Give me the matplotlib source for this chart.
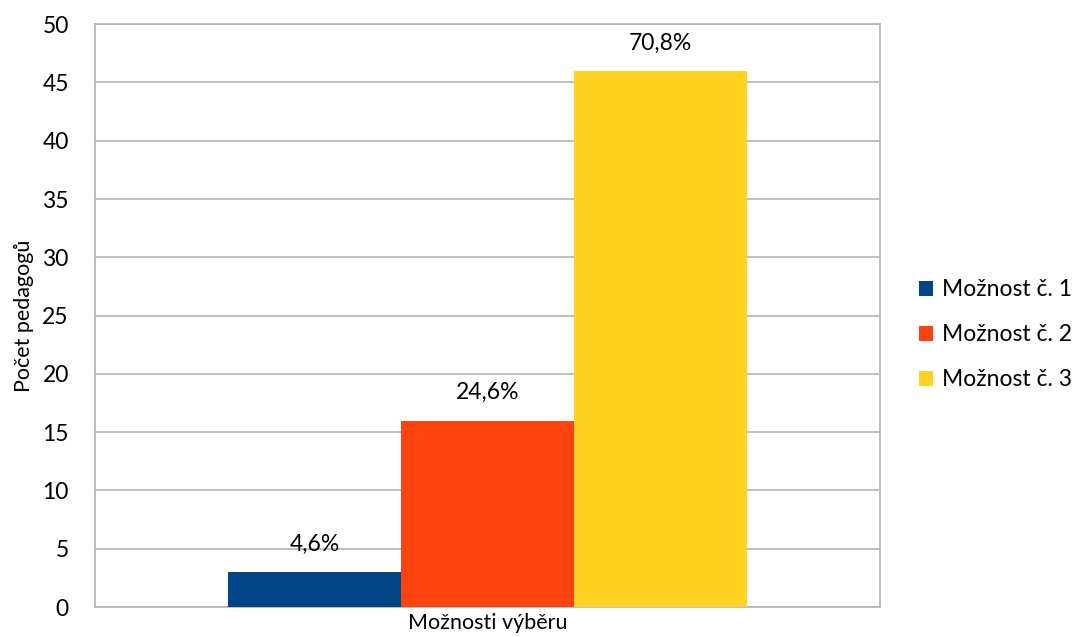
import matplotlib.pyplot as plt

plt.rcParams['font.family'] = ['Lato', 'DejaVu Sans']

labels = ['Možnost č. 1', 'Možnost č. 2', 'Možnost č. 3']
counts = [3, 16, 46]
percents = ['4,6%', '24,6%', '70,8%']
colors = ['#004586', '#FF420E', '#FFD320']
yticks = [0, 5, 10, 15, 20, 25, 30, 35, 40, 45, 50]

fig = plt.figure(figsize=(10.82, 6.37), dpi=100)
ax = fig.add_axes([0.088, 0.047, 0.725, 0.915])

pos = [-1, 0, 1]
for p, c, col, lab, pct in zip(pos, counts, colors, labels, percents):
    ax.bar(p, c, width=1.0, color=col, label=lab, zorder=3)
    ax.text(p, c + 1.5, pct, ha='center', va='bottom', fontsize=16.5, color='#000000')

ax.set_xlim(-2.27, 2.27)
ax.set_ylim(0, 50)
ax.set_yticks(yticks)
ax.set_xticks([])
ax.tick_params(axis='y', length=0, labelsize=16.5, pad=19)
ax.grid(axis='y', color='#B3B3B3', linewidth=1.2, zorder=0)
for s in ax.spines.values():
    s.set_color('#B3B3B3')
    s.set_linewidth(1.2)

ax.set_ylabel('Počet pedagogů', fontsize=15.5, labelpad=6)
ax.set_xlabel('Možnosti výběru', fontsize=15.5, labelpad=4)

ax.legend(loc='center left', bbox_to_anchor=(1.05, 0.467), frameon=False,
          borderaxespad=0, borderpad=0,
          fontsize=16.5, handlelength=0.6, handleheight=0.6, handletextpad=0.4,
          labelspacing=1.05)

fig.savefig('out.png', dpi=100)
